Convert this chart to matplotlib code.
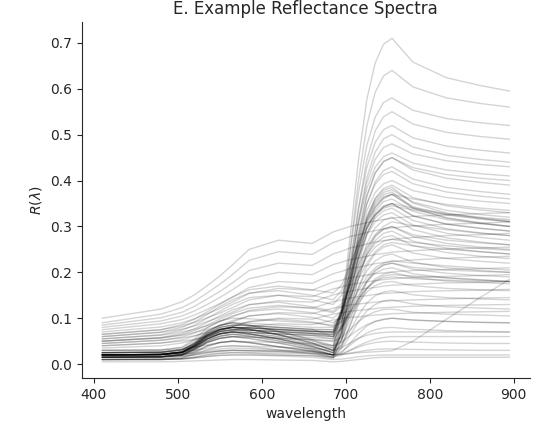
import matplotlib
matplotlib.use("Agg")
import matplotlib.pyplot as plt
import seaborn as sns

sns.set_style("ticks")
plt.rcParams['font.family'] = ['DejaVu Sans']

wavelength = [410, 480, 505, 520, 535, 550, 565, 585, 620, 660, 685,
              695, 705, 715, 725, 735, 745, 755, 780, 820, 860, 895]

vegetation_spectra = [
    [.020,.021,.026,.041,.062,.075,.080,.076,.064,.050,.040, .120,.275,.442,.576,.656,.697,.710, .658,.624,.607,.595],
    [.020,.021,.025,.038,.055,.066,.070,.066,.055,.042,.035, .108,.247,.398,.519,.592,.628,.640, .604,.580,.568,.560],
    [.025,.026,.031,.046,.067,.080,.085,.084,.080,.076,.060, .122,.242,.372,.476,.538,.570,.580, .553,.535,.526,.520],
    [.015,.016,.020,.031,.047,.056,.060,.056,.046,.032,.020, .084,.206,.338,.444,.508,.539,.550, .523,.505,.496,.490],
    [.020,.021,.026,.039,.059,.071,.075,.074,.071,.067,.060, .115,.221,.336,.428,.483,.511,.520, .493,.475,.466,.460],
    [.025,.026,.031,.044,.064,.076,.080,.076,.064,.046,.030, .086,.195,.312,.406,.462,.491,.500, .473,.455,.446,.440],
    [.015,.016,.021,.034,.054,.066,.070,.069,.066,.062,.055, .106,.204,.310,.395,.446,.472,.480, .458,.443,.435,.430],
    [.020,.021,.026,.041,.062,.075,.080,.079,.075,.071,.070, .117,.207,.304,.382,.429,.452,.460, .438,.423,.415,.410],
    [.030,.031,.036,.051,.072,.085,.090,.085,.071,.054,.040, .089,.184,.286,.368,.417,.442,.450, .423,.405,.396,.390],
    [.015,.016,.020,.033,.050,.061,.065,.061,.050,.035,.020, .069,.164,.266,.348,.397,.422,.430, .403,.385,.376,.370],
    [.020,.021,.026,.039,.059,.071,.075,.074,.071,.067,.065, .108,.189,.278,.349,.392,.413,.420, .393,.375,.366,.360],
    [.025,.026,.031,.044,.064,.076,.080,.079,.076,.072,.070, .110,.186,.268,.334,.374,.393,.400, .378,.363,.355,.350],
    [.020,.021,.025,.038,.055,.066,.070,.066,.055,.039,.025, .069,.153,.244,.317,.361,.383,.390, .363,.345,.336,.330],
    [.015,.016,.021,.036,.057,.070,.075,.074,.070,.066,.065, .103,.175,.254,.317,.355,.374,.380, .353,.335,.326,.320],
    [.020,.021,.026,.041,.062,.075,.080,.079,.075,.071,.070, .107,.177,.253,.314,.351,.369,.375, .341,.319,.308,.300],
    [.025,.026,.031,.046,.067,.080,.085,.084,.080,.076,.075, .110,.178,.252,.311,.346,.364,.370, .343,.325,.316,.310],
    [.020,.021,.027,.045,.069,.084,.090,.085,.071,.052,.035, .074,.149,.230,.295,.334,.354,.360, .333,.315,.306,.300],
    [.010,.011,.014,.024,.038,.047,.050,.047,.038,.027,.015, .055,.132,.216,.283,.323,.343,.350, .323,.305,.296,.290],
    [.020,.021,.025,.038,.055,.066,.070,.069,.066,.063,.060, .094,.158,.228,.284,.318,.334,.340, .313,.295,.286,.280],
    [.030,.031,.037,.055,.079,.094,.100,.099,.094,.090,.085, .114,.171,.232,.281,.310,.325,.330, .303,.285,.276,.270],
    [.020,.021,.026,.041,.062,.075,.080,.076,.064,.046,.030, .065,.132,.204,.262,.297,.314,.320, .293,.275,.266,.260],
    [.015,.016,.020,.031,.047,.056,.060,.059,.056,.053,.050, .080,.138,.200,.250,.280,.295,.300, .278,.263,.255,.250],
    [.020,.021,.026,.039,.059,.071,.075,.071,.059,.043,.030, .061,.121,.186,.238,.269,.285,.290, .268,.253,.245,.240],
    [.025,.026,.031,.044,.064,.076,.080,.079,.076,.072,.070, .095,.144,.196,.238,.263,.276,.280, .258,.243,.235,.230],
    [.020,.021,.025,.038,.055,.066,.070,.066,.055,.039,.025, .053,.107,.166,.213,.241,.255,.260, .242,.230,.224,.220],
    [.015,.016,.020,.033,.050,.061,.065,.064,.061,.058,.055, .077,.120,.166,.203,.225,.236,.240, .222,.210,.204,.200],
    [.020,.021,.026,.041,.062,.075,.080,.076,.064,.046,.030, .053,.097,.144,.182,.205,.216,.220, .207,.198,.193,.190],
    [.020,.021,.025,.038,.055,.066,.070,.069,.066,.063,.060, .078,.113,.150,.180,.198,.207,.210, .197,.188,.183,.180],
    [.015,.016,.020,.031,.047,.056,.060,.056,.046,.032,.020, .042,.083,.128,.164,.186,.196,.200, .189,.181,.178,.175],
    [.020,.021,.026,.039,.059,.071,.075,.074,.071,.067,.065, .079,.105,.134,.157,.171,.178,.180, .171,.165,.162,.160],
    [.020,.021,.025,.036,.052,.061,.065,.061,.051,.037,.025, .041,.072,.106,.133,.149,.157,.160, .151,.145,.142,.140],
    [.015,.016,.019,.027,.040,.047,.050,.047,.038,.029,.020, .034,.062,.092,.116,.130,.138,.140, .131,.125,.122,.120],
    [.020,.021,.024,.034,.048,.057,.060,.059,.057,.054,.050, .058,.075,.092,.106,.114,.119,.120, .113,.109,.107,.105],
    [.010,.011,.013,.021,.031,.038,.040,.038,.031,.022,.015, .025,.045,.066,.083,.093,.098,.100, .096,.093,.091,.090],
    [.015,.016,.019,.027,.040,.047,.050,.047,.038,.029,.020, .027,.041,.056,.068,.075,.079,.080, .076,.073,.071,.070],
    [.020,.021,.027,.043,.066,.080,.085,.084,.080,.075,.075, .112,.184,.261,.323,.360,.379,.385, .351,.329,.318,.310],
    [.015,.016,.021,.034,.054,.066,.070,.066,.055,.039,.025, .066,.146,.232,.301,.342,.363,.370, .339,.318,.307,.300],
    [.025,.026,.032,.048,.071,.085,.090,.089,.085,.080,.080, .112,.175,.242,.296,.328,.345,.350, .323,.305,.296,.290],
    [.020,.021,.026,.041,.062,.075,.080,.079,.075,.071,.070, .084,.112,.142,.166,.180,.188,.190, .186,.183,.181,.180],
    [.010,.010,.012,.015,.021,.024,.025,.025,.024,.023,.015, .049,.115,.186,.243,.277,.294,.300, .282,.270,.264,.260],
    [.015,.015,.017,.020,.026,.029,.030,.030,.029,.028,.020, .072,.171,.278,.364,.416,.441,.450, .428,.413,.405,.400],
    [.010,.010,.011,.014,.017,.019,.020,.020,.019,.019,.012, .037,.085,.137,.178,.203,.216,.220, .211,.205,.202,.200],
]

soil_spectra = [
    [.100,.120,.136,.151,.171,.192,.216,.250,.270,.263, .288,.294,.300,.304,.308,.312,.315,.318,.322,.325,.328,.330],
    [.090,.109,.123,.137,.155,.174,.195,.226,.245,.239, .265,.271,.278,.282,.287,.291,.294,.297,.301,.305,.307,.310],
    [.085,.101,.113,.126,.142,.158,.177,.204,.220,.215, .240,.246,.253,.257,.262,.266,.269,.272,.276,.280,.282,.285],
    [.080,.094,.105,.116,.130,.145,.162,.186,.200,.195, .217,.222,.228,.231,.235,.239,.241,.244,.247,.251,.253,.255],
    [.075,.088,.097,.107,.119,.132,.146,.167,.180,.176, .197,.202,.208,.211,.215,.219,.221,.224,.227,.231,.233,.235],
    [.070,.081,.090,.099,.110,.121,.135,.154,.165,.161, .179,.183,.188,.191,.194,.197,.199,.201,.204,.206,.208,.210],
    [.065,.075,.083,.091,.101,.111,.123,.140,.150,.147, .164,.168,.173,.176,.179,.182,.184,.186,.189,.191,.193,.195],
    [.060,.069,.076,.083,.093,.102,.113,.129,.138,.135, .151,.155,.159,.162,.165,.167,.170,.172,.174,.177,.178,.180],
    [.055,.063,.070,.076,.084,.093,.103,.117,.125,.122, .136,.140,.144,.147,.149,.152,.154,.155,.158,.160,.161,.163],
    [.050,.057,.063,.069,.076,.083,.092,.105,.112,.110, .122,.125,.129,.131,.133,.135,.137,.138,.140,.142,.144,.145],
    [.045,.052,.057,.062,.068,.075,.082,.093,.100,.098, .109,.112,.115,.117,.119,.121,.123,.124,.126,.128,.129,.130],
    [.040,.046,.050,.054,.060,.066,.073,.082,.088,.086, .096,.099,.102,.103,.105,.107,.108,.110,.111,.113,.114,.115],
]

mixed_spectra = [
    [.060,.070,.080,.092,.108,.125,.140,.155,.160,.150,.140, .160,.210,.265,.310,.340,.360,.370, .360,.348,.340,.335],
    [.050,.058,.067,.077,.091,.105,.118,.130,.135,.125,.115, .132,.170,.215,.255,.282,.300,.310, .302,.293,.285,.280],
    [.045,.052,.059,.068,.080,.093,.105,.115,.120,.112,.100, .115,.145,.185,.220,.245,.260,.265, .258,.250,.245,.240],
    [.040,.046,.053,.061,.072,.084,.095,.105,.110,.102,.090, .102,.128,.160,.190,.210,.220,.225, .220,.214,.209,.205],
    [.055,.064,.074,.085,.100,.115,.130,.145,.150,.140,.130, .150,.195,.250,.295,.325,.342,.350, .340,.328,.320,.315],
    [.035,.040,.046,.053,.062,.072,.082,.092,.098,.092,.082, .092,.112,.140,.165,.182,.192,.195, .192,.188,.184,.180],
    [.050,.057,.064,.073,.085,.098,.110,.122,.128,.122,.112, .125,.158,.198,.232,.255,.268,.272, .265,.258,.252,.248],
    [.065,.075,.086,.098,.114,.130,.146,.162,.170,.162,.155, .172,.215,.262,.300,.325,.340,.345, .336,.326,.318,.312],
]

dark_spectra = [
    [.010,.010,.011,.013,.016,.019,.020,.020,.018,.015,.010, .011,.013,.016,.018,.019,.020,.020, .020,.020,.020,.020],
    [.015,.015,.017,.020,.024,.028,.030,.029,.027,.024,.020, .021,.024,.027,.030,.032,.033,.033, .032,.031,.030,.030],
    [.020,.020,.022,.025,.029,.033,.035,.034,.031,.028,.020, .023,.030,.037,.043,.047,.049,.050, .048,.046,.045,.045],
    [.010,.010,.012,.015,.019,.023,.025,.024,.021,.018,.015, .020,.030,.040,.048,.054,.058,.060, .060,.060,.060,.060],
    [.025,.025,.027,.030,.034,.038,.040,.039,.037,.034,.030, .036,.046,.056,.063,.067,.069,.070, .070,.070,.070,.070],
    [.005,.005,.006,.007,.008,.009,.010,.010,.009,.008,.005, .006,.008,.010,.012,.014,.015,.015, .015,.015,.015,.015],
    [.030,.030,.033,.037,.042,.047,.050,.049,.047,.045,.040, .048,.062,.075,.086,.093,.097,.100, .096,.093,.091,.090],
    [.020,.020,.021,.023,.026,.029,.030,.029,.028,.025,.020, .021,.023,.025,.026,.027,.028,.029, .050,.098,.145,.185],
]

fig = plt.figure(figsize=(5.38, 4.33), dpi=100)
ax = fig.add_axes([0.152, 0.127, 0.833, 0.822])

for group in (vegetation_spectra, soil_spectra, mixed_spectra, dark_spectra):
    for spec in group:
        ax.plot(wavelength, spec, color='k', alpha=0.17, lw=1.0)

ax.set_xticks([400, 500, 600, 700, 800, 900])
ax.set_yticks([0.0, 0.1, 0.2, 0.3, 0.4, 0.5, 0.6, 0.7])
ax.set_xlabel('wavelength', fontsize=10)
ax.set_ylabel(r'$R(\lambda)$', fontsize=10)
ax.set_title('E. Example Reflectance Spectra', fontsize=12)
ax.tick_params(labelsize=10)
sns.despine(ax=ax)

fig.savefig('out.png', dpi=100)
